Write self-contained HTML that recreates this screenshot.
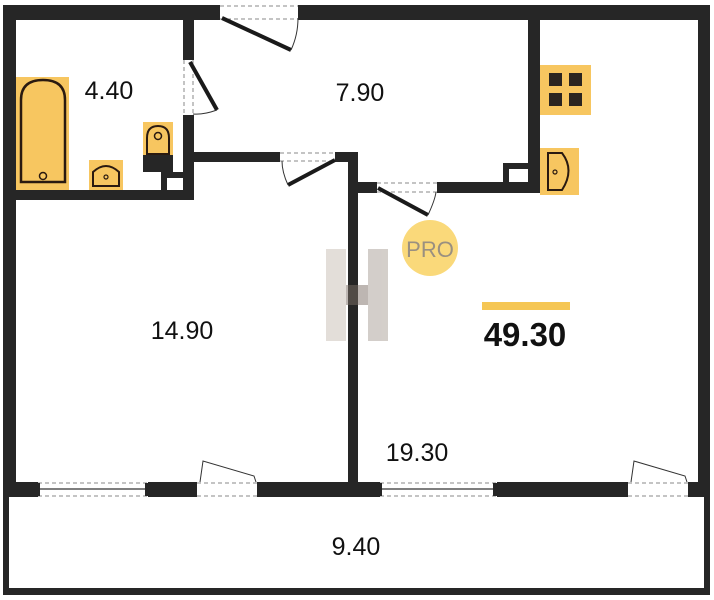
<!DOCTYPE html>
<html><head><style>body{margin:0;background:#fff}svg{display:block}text{font-family:"Liberation Sans",sans-serif}</style></head><body>
<svg width="714" height="600" viewBox="0 0 714 600" xmlns="http://www.w3.org/2000/svg">
<g fill="#262626">
<rect x="3" y="5" width="217" height="15"/>
<rect x="298" y="5" width="412" height="15"/>
<rect x="3" y="5" width="13" height="492"/>
<rect x="698" y="5" width="12" height="492"/>
<rect x="183" y="20" width="11" height="40"/>
<rect x="183" y="115" width="11" height="85"/>
<rect x="16" y="190" width="178" height="10"/>
<rect x="161" y="172" width="6" height="18"/>
<rect x="161" y="172" width="22" height="6"/>
<rect x="143" y="155" width="30" height="17"/>
<rect x="194" y="152" width="86" height="10"/>
<rect x="335" y="152" width="23" height="10"/>
<rect x="348" y="152" width="10" height="340"/>
<rect x="358" y="182" width="19" height="11"/>
<rect x="437" y="182" width="103" height="11"/>
<rect x="528" y="20" width="12" height="173"/>
<rect x="503" y="163" width="25" height="6"/>
<rect x="503" y="163" width="6" height="20"/>
<rect x="3" y="482" width="35" height="15"/>
<rect x="148" y="482" width="49" height="15"/>
<rect x="257" y="482" width="123" height="15"/>
<rect x="497" y="482" width="131" height="15"/>
<rect x="688" y="482" width="22" height="15"/>
<rect x="3" y="497" width="6" height="98"/>
<rect x="704" y="497" width="6" height="98"/>
<rect x="3" y="588" width="707" height="7"/>
</g>
<g stroke="#888" stroke-dasharray="4,3" fill="none" stroke-width="1">
<line x1="220" y1="6" x2="298" y2="6"/><line x1="220" y1="19" x2="298" y2="19"/>
<line x1="184" y1="60" x2="184" y2="115"/><line x1="193" y1="60" x2="193" y2="115"/>
<line x1="280" y1="153" x2="335" y2="153"/><line x1="280" y1="161" x2="335" y2="161"/>
<line x1="377" y1="183" x2="437" y2="183"/><line x1="377" y1="192" x2="437" y2="192"/>
<line x1="38" y1="483" x2="148" y2="483"/><line x1="38" y1="496" x2="148" y2="496"/>
<line x1="197" y1="483" x2="257" y2="483"/><line x1="197" y1="496" x2="257" y2="496"/>
<line x1="380" y1="483" x2="497" y2="483"/><line x1="380" y1="496" x2="497" y2="496"/>
<line x1="628" y1="483" x2="688" y2="483"/><line x1="628" y1="496" x2="688" y2="496"/>
</g>
<g stroke="#333" stroke-width="1.2">
<line x1="40" y1="489" x2="146" y2="489"/>
<line x1="382" y1="489" x2="495" y2="489"/>
</g>
<g fill="#262626"><rect x="36" y="483" width="4" height="13"/><rect x="145" y="483" width="4" height="13"/><rect x="378" y="483" width="4" height="13"/><rect x="493" y="483" width="4" height="13"/></g>
<g stroke="#1a1a1a" stroke-width="4">
<line x1="222" y1="18" x2="291" y2="50"/>
<line x1="190" y1="62" x2="217" y2="110"/>
<line x1="335" y1="160" x2="288" y2="185"/>
<line x1="378" y1="188" x2="428" y2="215"/>
</g>
<g stroke="#333" stroke-width="1" fill="none">
<path d="M291 50 Q298 35 298 18"/>
<path d="M217 110 Q203 115 193 114"/>
<path d="M288 185 Q282 172 282 161"/>
<path d="M428 215 Q435 200 436 192"/>
<path d="M200 482 L203 461 L254 476 L256 482"/>
<path d="M631 482 L634 461 L685 476 L687 482"/>
</g>
<rect x="16" y="77" width="53" height="113" fill="#f7c660"/>
<path d="M21 182 V100 Q21 80 43 80 Q65 80 65 100 V182 Z" fill="#f7c660" stroke="#2a1a10" stroke-width="2.5"/>
<circle cx="43" cy="176" r="3.5" fill="none" stroke="#2a1a10" stroke-width="1.5"/>
<rect x="89" y="160" width="34" height="30" fill="#f7c660"/>
<path d="M93 186 V172 Q106 160 119 172 V186 Z" fill="#f7c660" stroke="#2a1a10" stroke-width="2"/>
<circle cx="106" cy="177" r="2" fill="none" stroke="#2a1a10" stroke-width="1.2"/>
<rect x="143" y="122" width="30" height="33" fill="#f7c660"/>
<path d="M147 154 V138 Q147 126 158 126 Q169 126 169 138 V154 Z" fill="#f7c660" stroke="#2a1a10" stroke-width="2"/>
<circle cx="158" cy="136" r="3.5" fill="none" stroke="#2a1a10" stroke-width="1.5"/>
<rect x="540" y="65" width="51" height="50" fill="#f7c660"/>
<g fill="#2b2520"><rect x="549" y="73" width="13" height="13"/><rect x="569" y="73" width="13" height="13"/><rect x="549" y="93" width="13" height="13"/><rect x="569" y="93" width="13" height="13"/></g>
<rect x="540" y="148" width="39" height="47" fill="#f7c660"/>
<path d="M548 153 H562 Q575 170 562 190 H548 Z" fill="#f7c660" stroke="#2a1a10" stroke-width="2"/>
<circle cx="555" cy="172" r="2" fill="none" stroke="#2a1a10" stroke-width="1.2"/>
<g opacity="0.5">
<rect x="326" y="249" width="20" height="92" fill="#c9bfb5"/>
<rect x="368" y="249" width="20" height="92" fill="#a99f96"/>
<rect x="346" y="285" width="22" height="20" fill="#7d7067"/>
</g>
<circle cx="430" cy="248" r="28" fill="#fad97a"/>
<text x="430" y="257" text-anchor="middle" font-size="22" fill="#9a9080">PRO</text>
<rect x="482" y="302" width="88" height="8" fill="#f5c654"/>
<text x="525" y="346" text-anchor="middle" font-size="33" font-weight="bold" fill="#111">49.30</text>
<g font-size="25" fill="#111" text-anchor="middle">
<text x="109" y="99">4.40</text>
<text x="360" y="101">7.90</text>
<text x="182" y="339">14.90</text>
<text x="417" y="461">19.30</text>
<text x="356" y="555">9.40</text>
</g>
</svg>
</body></html>
